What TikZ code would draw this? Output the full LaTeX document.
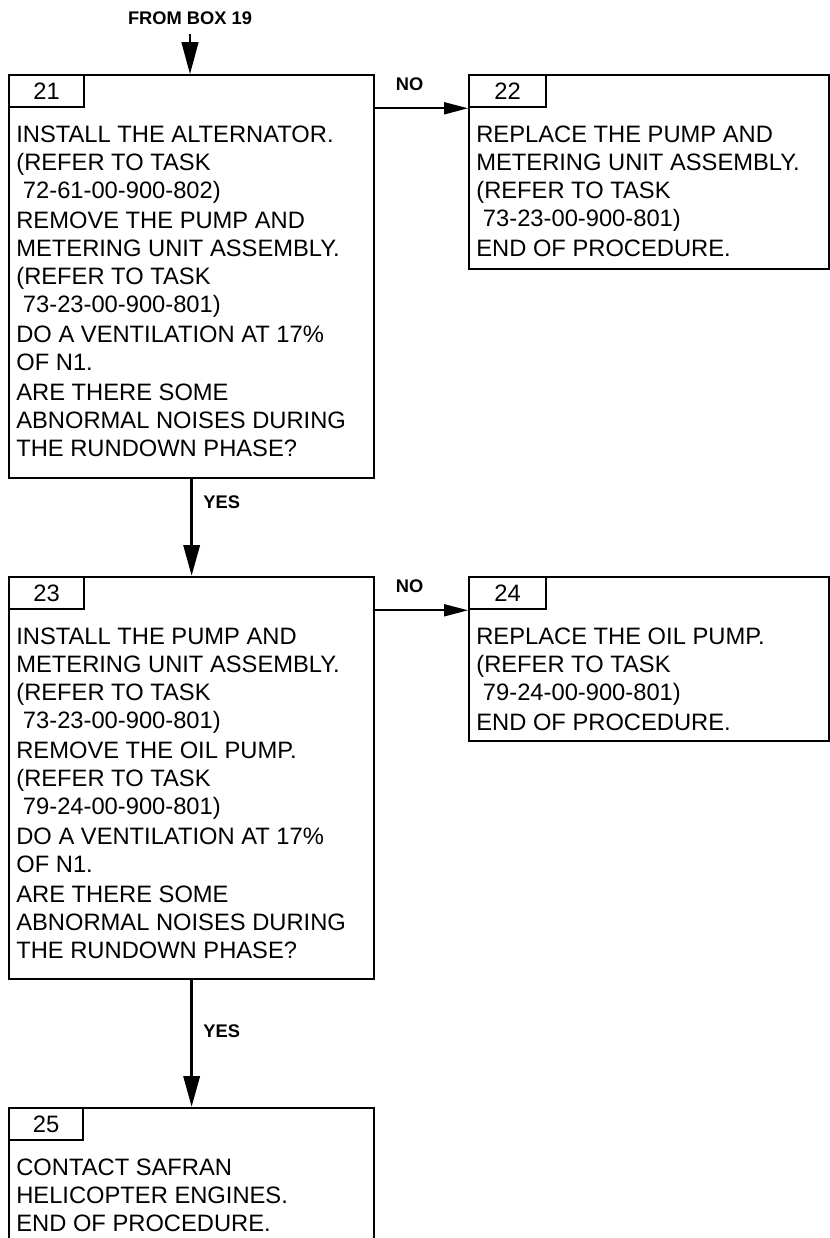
\documentclass[tikz,border=0pt]{standalone}
\usepackage{fontspec}
\setmainfont{Liberation Sans}
\usepackage{tikz}
\usetikzlibrary{positioning, arrows.meta}

\begin{document}
\begin{tikzpicture}[x=0.2mm, y=-0.2mm,
    every node/.style={font=\fontsize{13.5pt}{15.85pt}\selectfont},
    box/.style={draw, line width=1.3pt, anchor=north west, inner sep=0pt, minimum width=73mm},
    tab/.style={draw, line width=1.3pt, anchor=north west, inner sep=0pt, minimum height=6.4mm, minimum width=15mm},
    boxtext/.style={align=left, inner sep=0pt},
    flowlabel/.style={font=\fontsize{10.4pt}{12pt}\selectfont\bfseries, inner sep=0pt},
    yesarrow/.style={line width=2pt, -{Triangle[length=6.2mm, width=3.2mm]}},
    noarrow/.style={line width=1.1pt, -{Triangle[length=4.8mm, width=2.4mm]}},
]

    \useasboundingbox (0,0) rectangle (830,1238);
    \clip (0,0) rectangle (830,1238);

    % ===== Box 21 =====
    \node[box, minimum height=80.6mm] (box21) at (8,74) {};
    \node[tab] (tab21) at (8,74) {21};
    \node[boxtext, below right=3.5mm and 1.6mm of tab21.south west] (text21) {%
        INSTALL THE ALTERNATOR.\\
        (REFER TO TASK\\
        \hspace*{0.28em}72-61-00-900-802)\\[0.5mm]
        REMOVE THE PUMP AND\\
        METERING UNIT ASSEMBLY.\\
        (REFER TO TASK\\
        \hspace*{0.28em}73-23-00-900-801)\\[0.5mm]
        DO A VENTILATION AT 17\%\\
        OF N1.\\[0.5mm]
        ARE THERE SOME\\
        ABNORMAL NOISES DURING\\
        THE RUNDOWN PHASE?};

    % ===== Box 22 =====
    \node[box, minimum width=72mm, minimum height=38.8mm] (box22) at (468,74) {};
    \node[tab, minimum width=15.4mm] (tab22) at (468,74) {22};
    \node[boxtext, below right=3.5mm and 1.6mm of tab22.south west] (text22) {%
        REPLACE THE PUMP AND\\
        METERING UNIT ASSEMBLY.\\
        (REFER TO TASK\\
        \hspace*{0.28em}73-23-00-900-801)\\[0.5mm]
        END OF PROCEDURE.};

    % ===== Box 23 =====
    \node[box, minimum height=80.4mm] (box23) at (8,576) {};
    \node[tab] (tab23) at (8,576) {23};
    \node[boxtext, below right=3.5mm and 1.6mm of tab23.south west] (text23) {%
        INSTALL THE PUMP AND\\
        METERING UNIT ASSEMBLY.\\
        (REFER TO TASK\\
        \hspace*{0.28em}73-23-00-900-801)\\[0.5mm]
        REMOVE THE OIL PUMP.\\
        (REFER TO TASK\\
        \hspace*{0.28em}79-24-00-900-801)\\[0.5mm]
        DO A VENTILATION AT 17\%\\
        OF N1.\\[0.5mm]
        ARE THERE SOME\\
        ABNORMAL NOISES DURING\\
        THE RUNDOWN PHASE?};

    % ===== Box 24 =====
    \node[box, minimum width=72mm, minimum height=32.8mm] (box24) at (468,576) {};
    \node[tab, minimum width=15.4mm] (tab24) at (468,576) {24};
    \node[boxtext, below right=3.5mm and 1.6mm of tab24.south west] (text24) {%
        REPLACE THE OIL PUMP.\\
        (REFER TO TASK\\
        \hspace*{0.28em}79-24-00-900-801)\\[0.5mm]
        END OF PROCEDURE.};

    % ===== Box 25 (runs off the page) =====
    \node[box, minimum height=32mm] (box25) at (8,1107) {};
    \node[tab, minimum width=14.8mm] (tab25) at (8,1107) {25};
    \node[boxtext, below right=3.5mm and 1.6mm of tab25.south west] (text25) {%
        CONTACT SAFRAN\\
        HELICOPTER ENGINES.\\
        END OF PROCEDURE.};

    % ===== Connectors =====
    \node[flowlabel, inner ysep=1.8mm] (from19) at (190,18) {FROM BOX 19};
    \draw[line width=0.8pt, -{Triangle[length=6.4mm, width=3.4mm]}]
        (from19.south) -- (from19.south |- box21.north);

    \draw[noarrow] (box21.east |- tab22.south) -- (tab22.south west)
        node[flowlabel, pos=0.37, above=3.4mm] (no21) {NO};
    \draw[yesarrow] (box21.south) -- (box23.north)
        node[flowlabel, pos=0.24, right=2mm] (yes21) {YES};

    \draw[noarrow] (box23.east |- tab24.south) -- (tab24.south west)
        node[flowlabel, pos=0.37, above=3.4mm] (no23) {NO};
    \draw[yesarrow] (box23.south) -- (box25.north)
        node[flowlabel, pos=0.40, right=2mm] (yes23) {YES};

\end{tikzpicture}
\end{document}
